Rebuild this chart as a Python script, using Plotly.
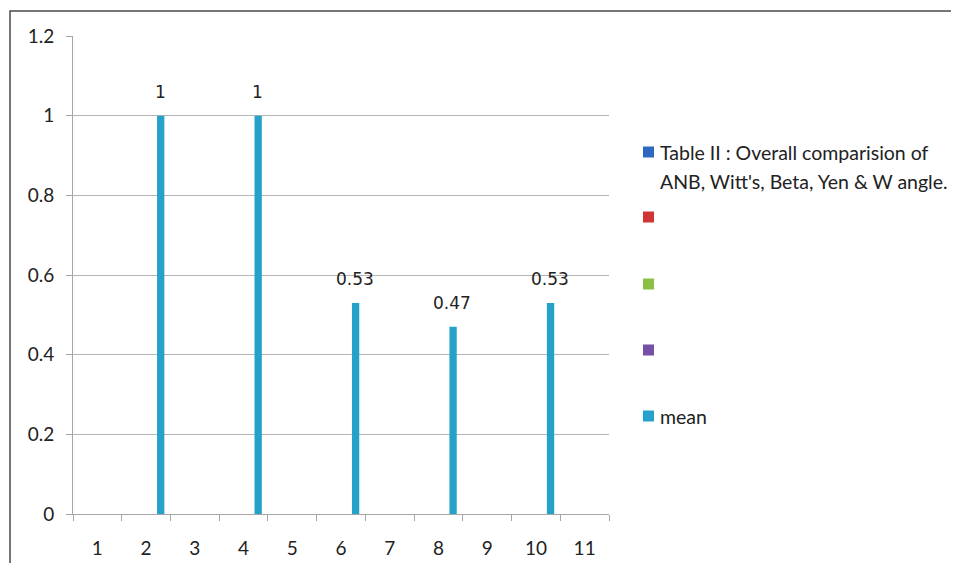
import plotly.graph_objects as go

categories = [str(i) for i in range(1, 12)]
series_names = ["Table II : Overall comparision of ANB, Witt's, Beta, Yen & W angle.", " ", "  ", "   ", "mean"]
series_colors = ["#2F68C0", "#D03434", "#8CC044", "#7550A6", "#24A2CA"]
empty = [None] * 11
mean_values = [None, 1, None, 1, None, 0.53, None, 0.47, None, 0.53, None]
yticks = [0, 0.2, 0.4, 0.6, 0.8, 1, 1.2]
ytick_labels = ["0", "0.2", "0.4", "0.6", "0.8", "1", "1.2"]

FONT = "Lato"
OFF = 8  # page body margin of the browser
W, H = 959 - OFF, 563 - OFF
L, R, T, B = 73 - OFF, 609 - OFF, 36 - OFF, 514 - OFF


def px(x):
    return (x - OFF - L) / (R - L)


def py(y):
    return (B - (y - OFF)) / (B - T)


fig = go.Figure()
for i in range(4):
    fig.add_trace(go.Bar(x=categories, y=empty, name=series_names[i],
                         marker_color=series_colors[i], showlegend=False))
fig.add_trace(go.Bar(x=categories, y=mean_values, name=series_names[4],
                     marker=dict(color=series_colors[4], line=dict(width=0)),
                     showlegend=False))

# data labels above the mean bars (mean is the 5th bar of each group -> right offset)
for idx, v in enumerate(mean_values):
    if v is None:
        continue
    fig.add_annotation(x=idx, y=v, xref="x", yref="y", text=f"{v:g}",
                       showarrow=False, xanchor="center", yanchor="bottom",
                       xshift=14, yshift=12,
                       font=dict(family="DejaVu Sans", size=17, color="#222222"))

fig.update_layout(
    width=W, height=H,
    margin=dict(l=L, r=W - R, t=T, b=H - B, autoexpand=False),
    barmode="group", bargap=0.25, bargroupgap=0,
    paper_bgcolor="white", plot_bgcolor="white",
    font=dict(family=FONT, size=19, color="#222222"),
    showlegend=False,
)
fig.update_xaxes(
    type="category", showgrid=False, showline=True, linecolor="#A6A6A6", linewidth=1,
    ticks="outside", tickson="boundaries", ticklen=6, tickcolor="#A6A6A6",
    ticklabelstandoff=17, automargin=False,
    tickfont=dict(family=FONT, size=19, color="#222222"),
)
fig.update_yaxes(
    range=[0, 1.2], tickvals=yticks, ticktext=ytick_labels,
    showgrid=True, gridcolor="#B5B5B5", gridwidth=1,
    showline=True, linecolor="#A6A6A6", linewidth=1,
    ticks="outside", ticklen=6, tickcolor="#A6A6A6", ticklabelstandoff=8,
    zeroline=False, automargin=False,
    tickfont=dict(family=FONT, size=19, color="#222222"),
)

# outer chart frame
fig.add_shape(type="rect", xref="paper", yref="paper",
              x0=px(10), x1=px(1000), y0=py(620), y1=py(11),
              line=dict(color="#4A4A4A", width=1.5), layer="below")

# manual legend (Excel-style spacing)
leg_y = [152, 217, 284, 350, 416]
for c, yy in zip(series_colors, leg_y):
    fig.add_shape(type="rect", xref="paper", yref="paper",
                  x0=px(643), x1=px(654), y0=py(yy + 5.5), y1=py(yy - 5.5),
                  line=dict(width=0), fillcolor=c)
legend_lines = [("Table II : Overall comparision of", 152),
                ("ANB, Witt's, Beta, Yen & W angle.", 181),
                ("mean", 416)]
for txt, yy in legend_lines:
    fig.add_annotation(text=txt, xref="paper", yref="paper", x=px(658), y=py(yy),
                       xanchor="left", yanchor="middle", showarrow=False,
                       font=dict(family=FONT, size=19.5, color="#222222"))

fig.write_html("out.html")
